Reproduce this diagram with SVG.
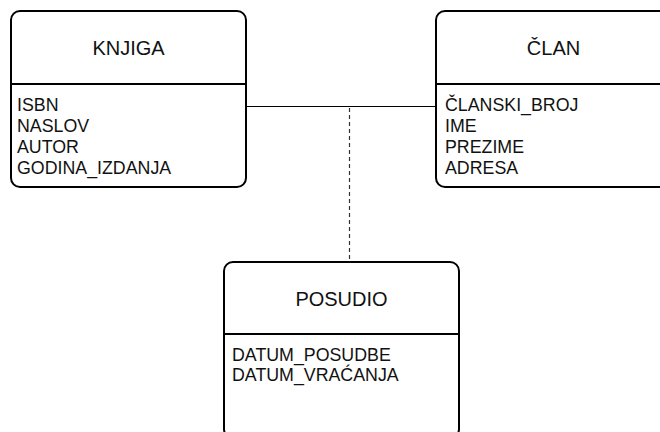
<svg xmlns="http://www.w3.org/2000/svg" width="660" height="432" viewBox="0 0 660 432">
  <style>
    .box { fill: #ffffff; stroke: #000000; stroke-width: 2; }
    .sep { stroke: #000000; stroke-width: 2; }
    .title { font-family: "Liberation Sans", Arial, sans-serif; font-size: 20px; fill: #111111; text-anchor: middle; }
    .attr { font-family: "Liberation Sans", Arial, sans-serif; font-size: 17.8px; fill: #111111; }
    .link { fill: none; stroke: #000000; stroke-width: 1.2; }
    .dashed { fill: none; stroke: #333333; stroke-width: 1.2; stroke-dasharray: 4 3; }
  </style>

  <rect width="660" height="432" fill="#ffffff"/>

  <!-- relationships -->
  <g id="connectors">
    <line class="link" x1="246" y1="106.5" x2="436" y2="106.5"/>
    <line class="dashed" x1="349.5" y1="108" x2="349.5" y2="262"/>
  </g>

  <!-- entity: KNJIGA -->
  <g id="knjiga">
    <rect class="box" x="11" y="11" width="235" height="176" rx="9" ry="9"/>
    <line class="sep" x1="11" y1="84" x2="246" y2="84"/>
    <text class="title" x="128.5" y="54.5">KNJIGA</text>
    <text class="attr" x="17">
      <tspan x="17" y="110.5">ISBN</tspan>
      <tspan x="17" y="131.7">NASLOV</tspan>
      <tspan x="17" y="152.9">AUTOR</tspan>
      <tspan x="17" y="174">GODINA_IZDANJA</tspan>
    </text>
  </g>

  <!-- entity: ČLAN -->
  <g id="clan">
    <rect class="box" x="436" y="11" width="235" height="176" rx="9" ry="9"/>
    <line class="sep" x1="436" y1="84" x2="671" y2="84"/>
    <text class="title" x="553.5" y="54.5">ČLAN</text>
    <text class="attr" x="445">
      <tspan x="445" y="110.5">ČLANSKI_BROJ</tspan>
      <tspan x="445" y="131.7">IME</tspan>
      <tspan x="445" y="152.9">PREZIME</tspan>
      <tspan x="445" y="174">ADRESA</tspan>
    </text>
  </g>

  <!-- entity: POSUDIO -->
  <g id="posudio">
    <rect class="box" x="224" y="262" width="235" height="176" rx="9" ry="9"/>
    <line class="sep" x1="224" y1="334" x2="459" y2="334"/>
    <text class="title" x="341.5" y="305.5">POSUDIO</text>
    <text class="attr" x="232">
      <tspan x="232" y="360.5">DATUM_POSUDBE</tspan>
      <tspan x="232" y="381.2">DATUM_VRAĆANJA</tspan>
    </text>
  </g>
</svg>
